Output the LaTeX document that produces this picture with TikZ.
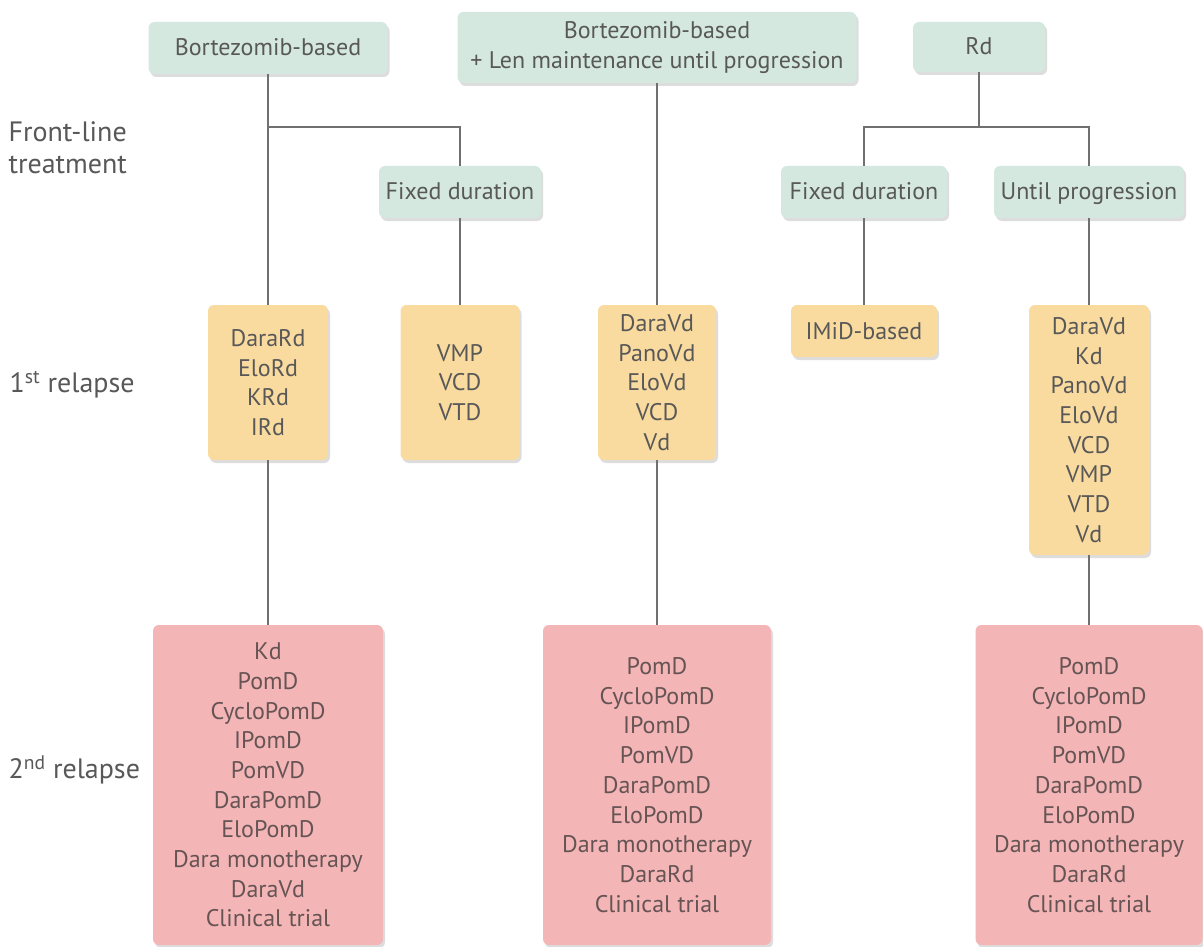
\documentclass[tikz,border=0pt]{standalone}
\usepackage{fontspec}
\setmainfont{PT Sans}
\usetikzlibrary{shadows}
\definecolor{gbox}{HTML}{D4E8DF}
\definecolor{obox}{HTML}{FADB9F}
\definecolor{pbox}{HTML}{F4B5B7}
\definecolor{txt}{HTML}{585858}
\definecolor{ptxt}{HTML}{665454}
\definecolor{lin}{HTML}{707070}
\begin{document}
\begin{tikzpicture}[x=1pt,y=-1pt,
  box/.style={rounded corners=6pt, align=center, inner sep=0pt,
    font=\fontsize{24}{29.7}\selectfont, text=txt,
    drop shadow={opacity=0.22, shadow xshift=2pt, shadow yshift=-3pt, fill=black!60}},
  one/.style={text height=17pt, text depth=1pt},
  gb/.style={box, fill=gbox},
  ob/.style={box, fill=obox},
  pb/.style={box, fill=pbox, text=ptxt},
  lab/.style={anchor=west, align=left, font=\fontsize{28}{32}\selectfont, text=txt},
  conn/.style={draw=lin, line width=1.5pt}]
\useasboundingbox (0,0) rectangle (1203,947);
\fill[white] (0,0) rectangle (1203,947);

% labels
\node[lab] (l1) at (5,148) {Front-line\\treatment};
\node[lab] (l2) at (6,385) {1\textsuperscript{st} relapse};
\node[lab] (l3) at (5,770) {2\textsuperscript{nd} relapse};

% front-line
\node[gb, one, minimum width=239pt, minimum height=52pt] (g1) at (268,48) {Bortezomib-based};
\node[gb, minimum width=399pt, minimum height=71pt] (g2) at (657,47.5) {Bortezomib-based\\+ Len maintenance until progression};
\node[gb, one, minimum width=132pt, minimum height=50pt] (g3) at (979,47) {Rd};
\node[gb, one, minimum width=162pt, minimum height=52pt] (f1) at (460,192) {Fixed duration};
\node[gb, one, minimum width=166pt, minimum height=52pt] (f2) at (864,192) {Fixed duration};
\node[gb, one, minimum width=190pt, minimum height=52pt] (f3) at (1089,192) {Until progression};

% 1st relapse
\node[ob, minimum width=120pt, minimum height=155pt] (o1) at (268,382.5) {DaraRd\\EloRd\\KRd\\IRd};
\node[ob, minimum width=119pt, minimum height=155pt] (o2) at (460,382.5) {VMP\\VCD\\VTD};
\node[ob, minimum width=118pt, minimum height=155pt] (o3) at (657,382.5) {DaraVd\\PanoVd\\EloVd\\VCD\\Vd};
\node[ob, one, minimum width=146pt, minimum height=52pt] (o4) at (864,331) {IMiD-based};
\node[ob, minimum width=120pt, minimum height=250pt] (o5) at (1089,430) {DaraVd\\Kd\\PanoVd\\EloVd\\VCD\\VMP\\VTD\\Vd};

% 2nd relapse
\node[pb, minimum width=230pt, minimum height=320pt] (p1) at (268,785) {Kd\\PomD\\CycloPomD\\IPomD\\PomVD\\DaraPomD\\EloPomD\\Dara monotherapy\\DaraVd\\Clinical trial};
\node[pb, minimum width=228pt, minimum height=320pt] (p2) at (657,785) {PomD\\CycloPomD\\IPomD\\PomVD\\DaraPomD\\EloPomD\\Dara monotherapy\\DaraRd\\Clinical trial};
\node[pb, minimum width=227pt, minimum height=320pt] (p3) at (1089,785) {PomD\\CycloPomD\\IPomD\\PomVD\\DaraPomD\\EloPomD\\Dara monotherapy\\DaraRd\\Clinical trial};

% junctions
\coordinate (j1) at (268,127);
\coordinate (j3) at (979,127);

% connectors
\draw[conn] (g1.south) -- (o1.north);
\draw[conn] (o1.south) -- (p1.north);
\draw[conn] (j1) -| (f1.north);
\draw[conn] (f1.south) -- (o2.north);
\draw[conn] (g2.south) -- (o3.north);
\draw[conn] (o3.south) -- (p2.north);
\draw[conn] (g3.south) -- (j3);
\draw[conn] (f2.north) |- (j3) -| (f3.north);
\draw[conn] (f2.south) -- (o4.north);
\draw[conn] (f3.south) -- (o5.north);
\draw[conn] (o5.south) -- (p3.north);
\end{tikzpicture}
\end{document}
